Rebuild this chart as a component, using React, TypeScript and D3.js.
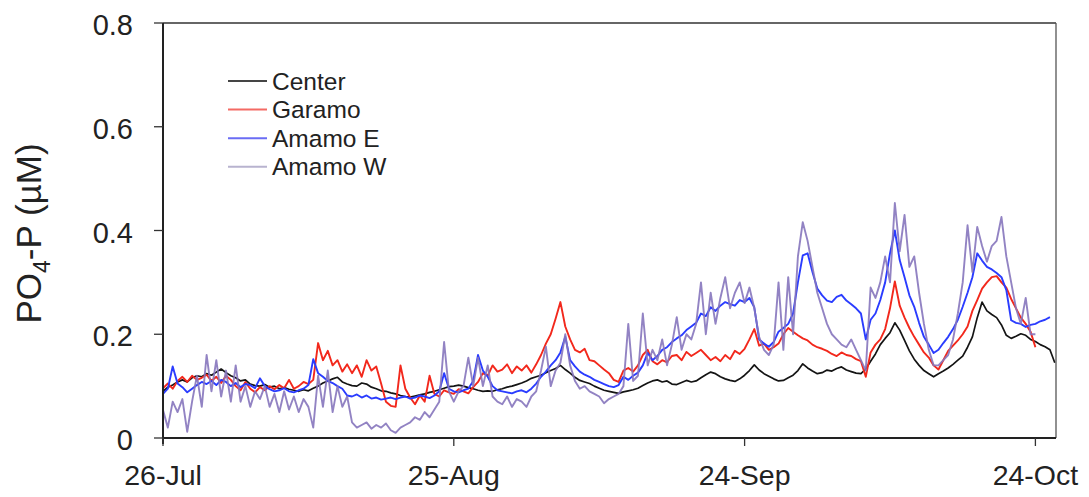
import React from "react";
import * as d3 from "d3";

// Phosphate (PO4-P, µM) records, sampled every 12 hours from 26 July
const START = new Date(2013, 6, 26);
const STEP_HOURS = 12;

const center = [
  0.090, 0.098, 0.102, 0.108, 0.112, 0.108, 0.116, 0.120, 0.118, 0.124,
  0.121, 0.127, 0.133, 0.126, 0.120, 0.116, 0.110, 0.112, 0.104, 0.101,
  0.100, 0.103, 0.098, 0.100, 0.095, 0.097, 0.094, 0.092, 0.090, 0.093,
  0.091, 0.096, 0.100, 0.106, 0.110, 0.114, 0.117, 0.108, 0.104, 0.101,
  0.100, 0.106, 0.104, 0.098, 0.095, 0.091, 0.090, 0.087, 0.085, 0.082,
  0.080, 0.079, 0.081, 0.083, 0.085, 0.088, 0.090, 0.093, 0.096, 0.099,
  0.100, 0.102, 0.100, 0.097, 0.095, 0.092, 0.090, 0.091, 0.090, 0.093,
  0.095, 0.098, 0.100, 0.103, 0.106, 0.110, 0.115, 0.118, 0.121, 0.126,
  0.130, 0.134, 0.140, 0.132, 0.125, 0.117, 0.111, 0.108, 0.105, 0.100,
  0.096, 0.092, 0.090, 0.088, 0.086, 0.089, 0.091, 0.093, 0.096, 0.101,
  0.106, 0.110, 0.112, 0.108, 0.110, 0.104, 0.103, 0.107, 0.111, 0.108,
  0.110, 0.116, 0.122, 0.127, 0.124, 0.118, 0.114, 0.111, 0.109, 0.114,
  0.121, 0.130, 0.141, 0.131, 0.124, 0.119, 0.114, 0.110, 0.111, 0.116,
  0.121, 0.130, 0.143, 0.135, 0.129, 0.124, 0.126, 0.131, 0.129, 0.134,
  0.137, 0.131, 0.128, 0.125, 0.124, 0.133, 0.148, 0.162, 0.180, 0.192,
  0.203, 0.222, 0.208, 0.188, 0.168, 0.152, 0.140, 0.130, 0.124, 0.118,
  0.124, 0.129, 0.135, 0.142, 0.150, 0.158, 0.175, 0.195, 0.232, 0.262,
  0.245, 0.238, 0.232, 0.218, 0.198, 0.192, 0.196, 0.201, 0.198, 0.190,
  0.186, 0.180, 0.176, 0.170, 0.145,
];

const garamo = [
  0.096, 0.105, 0.095, 0.110, 0.118, 0.108, 0.120, 0.112, 0.116, 0.122,
  0.110, 0.118, 0.106, 0.120, 0.112, 0.100, 0.092, 0.108, 0.095, 0.088,
  0.098, 0.092, 0.100, 0.094, 0.102, 0.096, 0.112, 0.095, 0.100, 0.108,
  0.104, 0.112, 0.183, 0.150, 0.168, 0.140, 0.150, 0.128, 0.142, 0.125,
  0.140, 0.118, 0.150, 0.130, 0.138, 0.105, 0.070, 0.062, 0.060, 0.140,
  0.095, 0.078, 0.065, 0.082, 0.070, 0.120, 0.085, 0.080, 0.092, 0.088,
  0.085, 0.094, 0.090, 0.086, 0.098, 0.108, 0.125, 0.120, 0.140, 0.128,
  0.132, 0.142, 0.125, 0.138, 0.130, 0.140, 0.126, 0.142, 0.160, 0.182,
  0.200, 0.230, 0.262, 0.215, 0.190, 0.170, 0.165, 0.172, 0.150, 0.148,
  0.140, 0.132, 0.125, 0.112, 0.108, 0.130, 0.135, 0.128, 0.140, 0.160,
  0.170, 0.148, 0.142, 0.150, 0.146, 0.158, 0.160, 0.150, 0.166, 0.158,
  0.164, 0.170, 0.160, 0.150, 0.156, 0.148, 0.160, 0.152, 0.168, 0.162,
  0.172, 0.190, 0.210, 0.178, 0.182, 0.170, 0.175, 0.182, 0.200, 0.212,
  0.205, 0.198, 0.192, 0.188, 0.180, 0.175, 0.172, 0.168, 0.162, 0.158,
  0.165, 0.160, 0.158, 0.152, 0.148, 0.118, 0.165, 0.180, 0.190, 0.210,
  0.250, 0.302, 0.255, 0.232, 0.212, 0.195, 0.180, 0.165, 0.155, 0.140,
  0.132, 0.150, 0.168, 0.178, 0.188, 0.200, 0.215, 0.245, 0.266, 0.288,
  0.300, 0.310, 0.312, 0.300, 0.290, 0.268, 0.250, 0.232, 0.220, 0.205,
  0.175,
];

const amamoE = [
  0.085, 0.095, 0.138, 0.105, 0.098, 0.088, 0.095, 0.102, 0.108, 0.104,
  0.110, 0.102, 0.112, 0.108, 0.100, 0.106, 0.098, 0.104, 0.102, 0.096,
  0.115, 0.100, 0.094, 0.090, 0.092, 0.096, 0.090, 0.088, 0.092, 0.095,
  0.102, 0.152, 0.125, 0.118, 0.110, 0.106, 0.100, 0.095, 0.082, 0.080,
  0.084, 0.078, 0.082, 0.076, 0.078, 0.074, 0.076, 0.078, 0.075, 0.078,
  0.080, 0.076, 0.078, 0.082, 0.080, 0.077, 0.082, 0.090, 0.125, 0.095,
  0.090, 0.088, 0.092, 0.095, 0.110, 0.160, 0.130, 0.118, 0.100, 0.092,
  0.090, 0.088, 0.086, 0.090, 0.092, 0.088, 0.095, 0.105, 0.118, 0.128,
  0.140, 0.150, 0.165, 0.195, 0.150, 0.138, 0.128, 0.122, 0.118, 0.112,
  0.108, 0.104, 0.100, 0.098, 0.102, 0.118, 0.112, 0.120, 0.126, 0.140,
  0.164, 0.150, 0.158, 0.170, 0.175, 0.185, 0.192, 0.198, 0.208, 0.215,
  0.222, 0.240, 0.235, 0.252, 0.245, 0.255, 0.262, 0.258, 0.255, 0.266,
  0.262, 0.270, 0.252, 0.190, 0.182, 0.176, 0.185, 0.205, 0.212, 0.220,
  0.240, 0.300, 0.352, 0.356, 0.320, 0.288, 0.275, 0.265, 0.262, 0.272,
  0.276, 0.265, 0.258, 0.250, 0.240, 0.190, 0.228, 0.240, 0.266, 0.300,
  0.356, 0.400, 0.343, 0.310, 0.275, 0.253, 0.222, 0.195, 0.180, 0.164,
  0.170, 0.183, 0.195, 0.210, 0.228, 0.253, 0.280, 0.310, 0.356, 0.342,
  0.330, 0.325, 0.318, 0.310, 0.285, 0.227, 0.222, 0.220, 0.214, 0.218,
  0.220, 0.225, 0.228, 0.233,
];

const amamoW = [
  0.054, 0.020, 0.070, 0.050, 0.075, 0.012, 0.070, 0.120, 0.060, 0.160,
  0.090, 0.150, 0.080, 0.130, 0.070, 0.140, 0.070, 0.100, 0.060, 0.090,
  0.075, 0.100, 0.060, 0.085, 0.050, 0.090, 0.055, 0.080, 0.050, 0.075,
  0.060, 0.020, 0.120, 0.060, 0.130, 0.050, 0.100, 0.060, 0.080, 0.030,
  0.020, 0.025, 0.030, 0.018, 0.025, 0.020, 0.028, 0.015, 0.010, 0.020,
  0.025, 0.030, 0.040, 0.035, 0.050, 0.040, 0.055, 0.070, 0.185, 0.090,
  0.070, 0.090, 0.100, 0.155, 0.100, 0.155, 0.100, 0.140, 0.080, 0.070,
  0.065, 0.080, 0.060, 0.075, 0.070, 0.060, 0.080, 0.090, 0.130, 0.176,
  0.100, 0.130, 0.145, 0.200, 0.140, 0.110, 0.095, 0.100, 0.090, 0.085,
  0.080, 0.067, 0.075, 0.080, 0.085, 0.100, 0.220, 0.110, 0.120, 0.240,
  0.140, 0.170, 0.150, 0.190, 0.140, 0.180, 0.233, 0.170, 0.200, 0.190,
  0.220, 0.300, 0.200, 0.280, 0.220, 0.270, 0.310, 0.250, 0.280, 0.300,
  0.260, 0.290, 0.250, 0.195, 0.170, 0.160, 0.180, 0.300, 0.170, 0.310,
  0.200, 0.350, 0.416, 0.380, 0.330, 0.280, 0.250, 0.220, 0.200, 0.190,
  0.180, 0.175, 0.190, 0.170, 0.150, 0.130, 0.290, 0.270, 0.300, 0.350,
  0.300, 0.453, 0.360, 0.430, 0.330, 0.350, 0.280, 0.220, 0.170, 0.140,
  0.140, 0.150, 0.160, 0.190, 0.240, 0.300, 0.410, 0.320, 0.407, 0.370,
  0.340, 0.370, 0.380, 0.426, 0.350, 0.300, 0.250, 0.220, 0.270, 0.200,
  0.200,
];

const seriesNames = ["Center", "Garamo", "Amamo E", "Amamo W"];
const seriesValues = [center, garamo, amamoE, amamoW];
const lineColors = ["#141414", "#f2281c", "#2a3cff", "#8676bc"];
const legendColors = ["#454545", "#f46a64", "#6a6cf4", "#b8b3cf"];

const yTicks = [0, 0.2, 0.4, 0.6, 0.8];
const xTickDates = [
  new Date(2013, 6, 26),
  new Date(2013, 7, 25),
  new Date(2013, 8, 24),
  new Date(2013, 9, 24),
];

const W = 1089;
const H = 497;
const margin = { left: 163, right: 33, top: 23, bottom: 59 };
const FONT = "Arial, 'Liberation Sans', sans-serif";

export default function App() {
  const x = d3
    .scaleTime()
    .domain([START, d3.timeHour.offset(START, 92.15 * 24)])
    .range([margin.left, W - margin.right]);
  const y = d3
    .scaleLinear()
    .domain([0, 0.8])
    .range([H - margin.bottom, margin.top]);

  const x0 = margin.left;
  const x1 = W - margin.right;
  const y0 = H - margin.bottom;
  const y1 = margin.top;

  const fmt = d3.timeFormat("%-d-%b");

  const makeLine = (vals: number[]) =>
    d3
      .line<number>()
      .x((_, i) => x(d3.timeHour.offset(START, i * STEP_HOURS)))
      .y((v) => y(v))(vals) as string;

  return (
    <svg
      width={W}
      height={H}
      style={{ position: "absolute", left: 0, top: 0, background: "#fff" }}
      fontFamily={FONT}
    >
      <rect x={0} y={0} width={W} height={H} fill="#fff" />

      {/* data lines */}
      <g fill="none" strokeLinejoin="round">
        {seriesValues.map((vals, k) => (
          <path
            key={seriesNames[k]}
            d={makeLine(vals)}
            stroke={lineColors[k]}
            strokeWidth={k === 0 ? 1.7 : 1.9}
            strokeOpacity={k === 3 ? 0.9 : 1}
          />
        ))}
      </g>

      {/* frame */}
      <line x1={x0} y1={y1} x2={x1} y2={y1} stroke="#333" strokeWidth={1.5} />
      <line x1={x1} y1={y1} x2={x1} y2={y0} stroke="#555" strokeWidth={1.3} />
      <line x1={x0} y1={y0} x2={x1} y2={y0} stroke="#222" strokeWidth={2} />
      <line x1={x0} y1={y1} x2={x0} y2={y0 + 6} stroke="#222" strokeWidth={2} />

      {/* y axis */}
      {yTicks.map((t) => (
        <g key={t}>
          <line x1={x0 - 9} x2={x0} y1={y(t)} y2={y(t)} stroke="#333" strokeWidth={1.3} />
          <text
            x={x0 - 30}
            y={y(t) + 2}
            textAnchor="end"
            dominantBaseline="central"
            fontSize={29}
            fill="#222"
          >
            {d3.format("")(t)}
          </text>
        </g>
      ))}

      {/* x axis */}
      {xTickDates.map((d) => (
        <g key={d.getTime()}>
          <line x1={x(d)} x2={x(d)} y1={y0} y2={y0 + 8} stroke="#333" strokeWidth={1.3} />
          <text x={x(d)} y={y0 + 47} textAnchor="middle" fontSize={28.5} fill="#222">
            {fmt(d)}
          </text>
        </g>
      ))}

      {/* y axis title */}
      <text
        transform={`translate(41, ${(140 + 327) / 2}) rotate(-90)`}
        textAnchor="middle"
        fontSize={35}
        fill="#222"
      >
        PO
        <tspan fontSize={23} dy={9}>4</tspan>
        <tspan dy={-9}>-P (µM)</tspan>
      </text>

      {/* legend */}
      {seriesNames.map((name, k) => {
        const cy = 81 + k * 28.6;
        return (
          <g key={name}>
            <line x1={228} x2={267} y1={cy} y2={cy} stroke={legendColors[k]} strokeWidth={2} />
            <text x={272} y={cy} dominantBaseline="central" fontSize={24.5} fill="#222">
              {name}
            </text>
          </g>
        );
      })}
    </svg>
  );
}
